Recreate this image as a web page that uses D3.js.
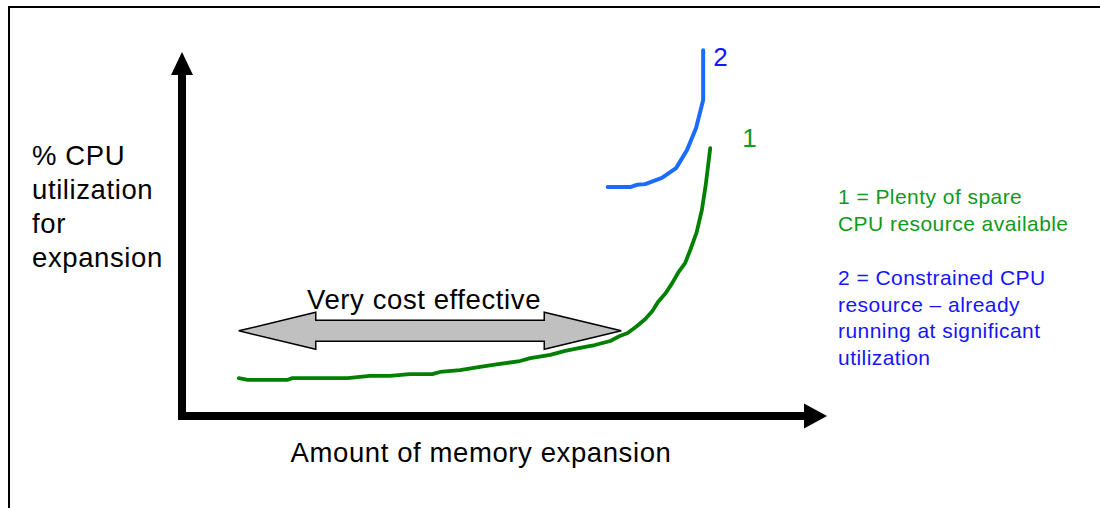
<!DOCTYPE html>
<html>
<head>
<meta charset="utf-8">
<script src="https://cdn.jsdelivr.net/npm/d3@7"></script>
<style>
  html, body { margin: 0; padding: 0; background: #fff; }
  svg { display: block; font-family: "Liberation Sans", Arial, sans-serif; }
</style>
</head>
<body>
<svg id="chart" width="1100" height="508"></svg>
<script>
// Memory expansion (x, % of axis length) vs CPU utilisation (y, % of axis height)
const plentyX = [8.8, 10.2, 16.3, 17.1, 25.7, 29.1, 32.2, 35.3, 38.8, 40.0, 43.1, 46.2, 49.3, 52.4, 54.0, 57.1, 59.4, 61.7, 64.0, 66.4, 67.9, 69.1, 70.4, 71.8, 72.9, 73.8, 75.0, 76.0, 76.9, 78.0, 78.8, 79.8, 80.6, 81.2, 81.9];
const plentyY = [10.4, 9.9, 9.9, 10.4, 10.4, 11.0, 11.0, 11.5, 11.5, 12.1, 12.6, 13.5, 14.3, 15.1, 15.9, 16.8, 17.9, 18.7, 19.5, 20.6, 22.0, 22.8, 24.5, 26.6, 28.8, 31.3, 33.8, 36.5, 39.3, 42.0, 45.6, 50.5, 56.6, 63.5, 73.6];
const constrainedX = [66.0, 69.5, 70.5, 71.8, 74.4, 76.6, 78.3, 79.7, 80.8, 80.8];
const constrainedY = [62.9, 62.9, 63.5, 63.7, 65.4, 68.1, 73.1, 79.1, 86.8, 100.5];

// Cost-effective range on the x axis and its level
const effectiveRange = [8.8, 68.1];
const effectiveLevel = 23.4;

const yTitleLines = ["% CPU", "utilization", "for", "expansion"];
const xTitle = "Amount of memory expansion";
const rangeLabel = "Very cost effective";
const legendPlenty = ["1 = Plenty of spare", "CPU resource available"];
const legendConstrained = ["2 = Constrained CPU", "resource \u2013 already", "running at significant", "utilization"];

const svg = d3.select("#chart");
const x = d3.scaleLinear().domain([0, 100]).range([182, 827]);
const y = d3.scaleLinear().domain([0, 100]).range([416, 52]);

// frame (only top and left edges fall inside the view)
svg.append("rect")
  .attr("x", 9).attr("y", 7).attr("width", 1200).attr("height", 600)
  .attr("fill", "none").attr("stroke", "#000").attr("stroke-width", 2);

// axes with solid arrowheads
const axisW = 8, headLen = 23, headHalf = 12;
const x0 = x(0), y0 = y(0);
svg.append("rect")
  .attr("x", x0 - axisW / 2).attr("y", y(100) + headLen - 1)
  .attr("width", axisW).attr("height", y0 + axisW / 2 - (y(100) + headLen - 1))
  .attr("fill", "#000");
svg.append("path")
  .attr("d", `M${x0},${y(100)} L${x0 + headHalf - 1},${y(100) + headLen} L${x0 - headHalf + 1},${y(100) + headLen} Z`)
  .attr("fill", "#000");
svg.append("rect")
  .attr("x", x0 - axisW / 2).attr("y", y0 - axisW / 2)
  .attr("width", x(100) - headLen + 1 - (x0 - axisW / 2)).attr("height", axisW)
  .attr("fill", "#000");
svg.append("path")
  .attr("d", `M${x(100)},${y0} L${x(100) - headLen},${y0 - headHalf - 0.5} L${x(100) - headLen},${y0 + headHalf + 0.5} Z`)
  .attr("fill", "#000");

// curves
const line = d3.line().x(d => x(d[0])).y(d => y(d[1]));
svg.append("path")
  .datum(d3.zip(plentyX, plentyY))
  .attr("d", line)
  .attr("fill", "none").attr("stroke", "#008000").attr("stroke-width", 3.8)
  .attr("stroke-linecap", "round").attr("stroke-linejoin", "round");
svg.append("path")
  .datum(d3.zip(constrainedX, constrainedY))
  .attr("d", line)
  .attr("fill", "none").attr("stroke", "#1a6cff").attr("stroke-width", 4)
  .attr("stroke-linecap", "round").attr("stroke-linejoin", "round");

// double-headed range arrow
const ax0 = x(effectiveRange[0]), ax1 = x(effectiveRange[1]), ay = y(effectiveLevel);
const hl = 77, hh = 18.5, sh = 10.5;
svg.append("path")
  .attr("d", `M${ax0},${ay} L${ax0 + hl},${ay - hh} L${ax0 + hl},${ay - sh} L${ax1 - hl},${ay - sh} L${ax1 - hl},${ay - hh} L${ax1},${ay} L${ax1 - hl},${ay + hh} L${ax1 - hl},${ay + sh} L${ax0 + hl},${ay + sh} L${ax0 + hl},${ay + hh} Z`)
  .attr("fill", "#c0c0c0").attr("stroke", "#000").attr("stroke-width", 1.5)
  .attr("stroke-linejoin", "miter");
svg.append("text")
  .attr("x", (ax0 + ax1) / 2 - 6).attr("y", ay - 22)
  .attr("text-anchor", "middle").attr("font-size", 27.5).attr("letter-spacing", 0.6)
  .attr("fill", "#000")
  .text(rangeLabel);

// axis titles
svg.append("g").selectAll("text").data(yTitleLines).join("text")
  .attr("x", 32).attr("y", (d, i) => 165 + i * 34)
  .attr("font-size", 27.5).attr("letter-spacing", 0.6).attr("fill", "#000")
  .text(d => d);
svg.append("text")
  .attr("x", 481).attr("y", 462)
  .attr("text-anchor", "middle").attr("font-size", 27.5).attr("letter-spacing", 0.6)
  .attr("fill", "#000")
  .text(xTitle);

// curve end markers
const lastP = plentyX.length - 1, lastC = constrainedX.length - 1;
svg.append("text")
  .attr("x", x(constrainedX[lastC]) + 10).attr("y", y(constrainedY[lastC]) + 16)
  .attr("font-size", 26).attr("fill", "#1414ff").text("2");
svg.append("text")
  .attr("x", x(plentyX[lastP]) + 32).attr("y", y(plentyY[lastP]) - 1)
  .attr("font-size", 26).attr("fill", "#11991b").text("1");

// legend
svg.append("g").selectAll("text").data(legendPlenty).join("text")
  .attr("x", 838).attr("y", (d, i) => 204 + i * 26.5)
  .attr("font-size", 21).attr("letter-spacing", 0.45).attr("fill", "#11991b")
  .text(d => d);
svg.append("g").selectAll("text").data(legendConstrained).join("text")
  .attr("x", 838).attr("y", (d, i) => 285 + i * 26.5)
  .attr("font-size", 21).attr("letter-spacing", 0.45).attr("fill", "#1414ff")
  .text(d => d);
</script>
</body>
</html>
